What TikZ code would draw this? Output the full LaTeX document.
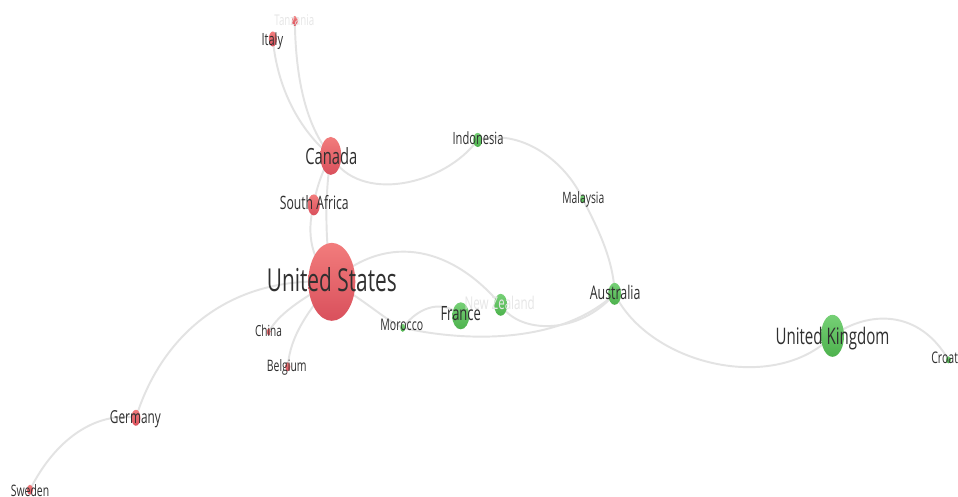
\documentclass[tikz,border=0pt]{standalone}
\usepackage{fontspec}
\setmainfont{Open Sans}[FakeStretch=0.66]
\usetikzlibrary{shapes.geometric,backgrounds}
\definecolor{edgec}{HTML}{E3E3E3}
\definecolor{redtop}{HTML}{F27C7C}
\definecolor{redbot}{HTML}{D9505C}
\definecolor{gtop}{HTML}{76D076}
\definecolor{gbot}{HTML}{4DB24D}
\definecolor{labc}{HTML}{303030}
\definecolor{fadec}{HTML}{E6E6E6}
\begin{document}
\begin{tikzpicture}[x=0.02cm,y=-0.02cm,
  sz/.style 2 args={minimum width=#1*0.02cm, minimum height=#2*0.02cm},
  rnode/.style={ellipse, inner sep=0, top color=redtop, bottom color=redbot, draw=none},
  gnode/.style={ellipse, inner sep=0, top color=gtop, bottom color=gbot, draw=none},
  lab/.style={text=labc, inner sep=0, anchor=base, font=\fontsize{#1}{#1}\selectfont},
  faded/.style={text=fadec, inner sep=0, anchor=base, font=\fontsize{#1}{#1}\selectfont},
  edge/.style={draw=edgec, line width=1.1pt}]

% nodes
\node[rnode, sz={47}{78}] (us) at (332,282) {};
\node[rnode, sz={21}{38}] (ca) at (331,156) {};
\node[rnode, sz={12}{21}] (sa) at (314,205) {};
\node[rnode, sz={8}{15}]  (it) at (273,39) {};
\node[rnode, sz={6}{10}]  (tz) at (295,21) {};
\node[rnode, sz={4}{7}]   (cn) at (269,332) {};
\node[rnode, sz={5}{9}]   (be) at (288,367) {};
\node[rnode, sz={9}{16}]  (de) at (136,418) {};
\node[rnode, sz={6}{10}]  (se) at (30,490) {};
\node[gnode, sz={23}{42}] (uk) at (833,336) {};
\node[gnode, sz={17}{27}] (fr) at (461,316) {};
\node[gnode, sz={13}{22}] (nz) at (501,305) {};
\node[gnode, sz={13}{22}] (au) at (615,294) {};
\node[gnode, sz={9}{14}]  (id) at (478,140) {};
\node[gnode, sz={5}{8}]   (my) at (583,199) {};
\node[gnode, sz={5}{8}]   (ma) at (403,328) {};
\node[gnode, sz={5}{7}]   (hr) at (949,360) {};

\begin{pgfonlayer}{background}
  \fill[white] (0,0) rectangle (958,495);
  \draw[edge] (tz.center) .. controls (296,90) and (310,130) .. (ca.center);
  \draw[edge] (it.center) .. controls (278,95) and (305,135) .. (ca.center);
  \draw[edge] (ca.center) .. controls (360,205) and (445,185) .. (id.center);
  \draw[edge] (id.center) .. controls (520,128) and (565,160) .. (my.center);
  \draw[edge] (my.center) .. controls (598,228) and (614,260) .. (au.center);
  \draw[edge] (ca.center) .. controls (322,172) and (316,190) .. (sa.center);
  \draw[edge] (ca.center) .. controls (325,195) and (325,240) .. (us.center);
  \draw[edge] (sa.center) .. controls (306,235) and (312,260) .. (us.center);
  \draw[edge] (us.center) .. controls (225,276) and (160,340) .. (de.center);
  \draw[edge] (de.center) .. controls (95,412) and (55,440) .. (se.center);
  \draw[edge] (us.center) .. controls (300,300) and (278,315) .. (cn.center);
  \draw[edge] (us.center) .. controls (310,310) and (290,335) .. (be.center);
  \draw[edge] (us.center) .. controls (365,300) and (385,320) .. (ma.center);
  \draw[edge] (ma.center) .. controls (420,305) and (445,300) .. (fr.center);
  \draw[edge] (ma.center) .. controls (465,342) and (560,345) .. (au.center);
  \draw[edge] (us.center) .. controls (390,230) and (455,250) .. (nz.center);
  \draw[edge] (nz.center) .. controls (520,335) and (580,335) .. (au.center);
  \draw[edge] (au.center) .. controls (650,365) and (775,395) .. (uk.center);
  \draw[edge] (uk.center) .. controls (870,310) and (920,310) .. (hr.center);
\end{pgfonlayer}

% labels
\node[lab=18] (usl) at (332,292) {United States};
\node[lab=12.7] (cal) at (331.5,164.3) {Canada};
\node[lab=10.5] (sal) at (314.5,209.3) {South Africa};
\node[lab=9.6] (itl) at (272.5,46) {Italy};
\node[faded=8.4] (tzl) at (294.5,26) {Tanzania};
\node[lab=9.6] (idl) at (478.3,145) {Indonesia};
\node[lab=8.9] (myl) at (583.7,203.3) {Malaysia};
\node[lab=10.7] (aul) at (615.5,299.3) {Australia};
\node[lab=11.2] (frl) at (461,320.7) {France};
\node[faded=10] (nzl) at (500,310) {New Zealand};
\node[lab=9.1] (mal) at (402,330.7) {Morocco};
\node[lab=8.7] (cnl) at (268.7,336.7) {China};
\node[lab=9] (bel) at (287,371.7) {Belgium};
\node[lab=13] (ukl) at (833,344.3) {United Kingdom};
\node[lab=9.1, anchor=base west] (hrl) at (931.5,363.3) {Croat};
\node[lab=10.2] (del) at (135.5,423.3) {Germany};
\node[lab=9] (sel) at (30,497) {Sweden};

\useasboundingbox (0,0) rectangle (958,495);
\end{tikzpicture}
\end{document}
